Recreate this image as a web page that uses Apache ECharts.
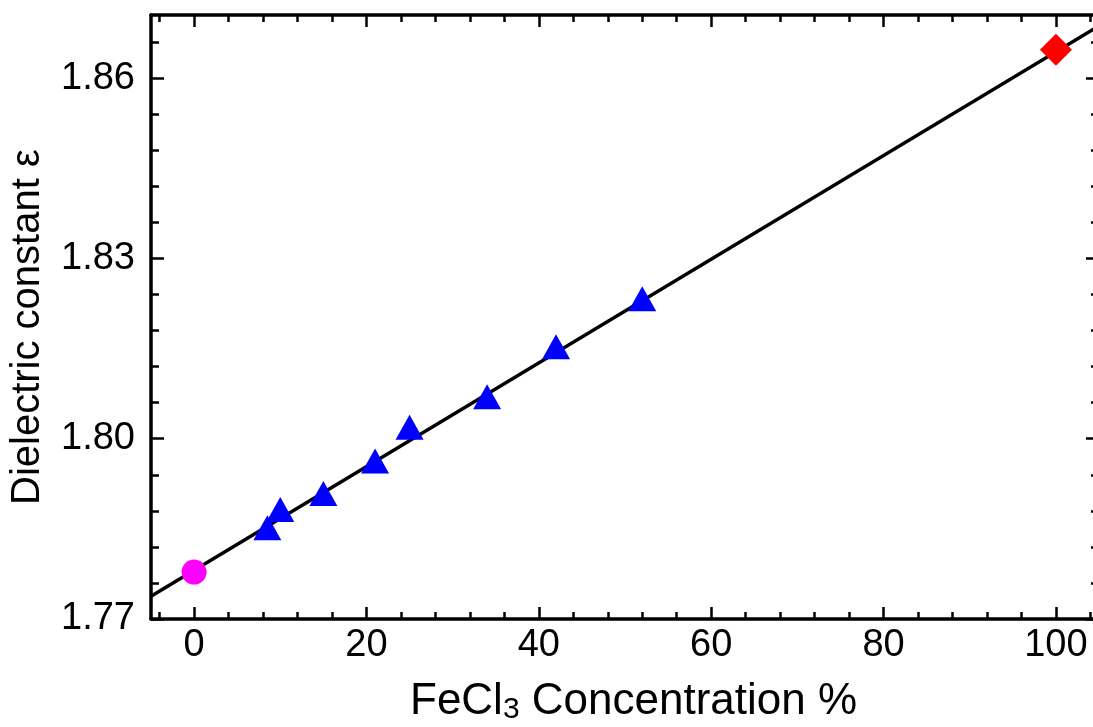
<!DOCTYPE html>
<html>
<head>
<meta charset="utf-8">
<script src="https://cdn.jsdelivr.net/npm/echarts@6/dist/echarts.min.js"></script>
<style>
html,body{margin:0;padding:0;background:#fff;}
#chart{width:1093px;height:727px;}
</style>
</head>
<body>
<div id="chart"></div>
<script>
// ---- data ----
const concSolution = [8.5, 10, 15, 21, 25, 34, 42, 52];
const epsSolution  = [1.7852, 1.7882, 1.7909, 1.7963, 1.8019, 1.8070, 1.8153, 1.8233];
const concPure = [0];
const epsPure  = [1.7778];
const concFeCl3 = [100];
const epsFeCl3  = [1.8647];
const fitX = [-5, 105];
const fitY = [1.7738, 1.8687];

const xMajor = [0, 20, 40, 60, 80, 100];
const xMinor = [-4, 4, 8, 12, 16, 24, 28, 32, 36, 44, 48, 52, 56, 64, 68, 72, 76, 84, 88, 92, 96, 104];
const yMajor = [1.77, 1.80, 1.83, 1.86];
const yMinor = [1.776, 1.782, 1.788, 1.794, 1.806, 1.812, 1.818, 1.824, 1.836, 1.842, 1.848, 1.854, 1.866];

const FONT = 'Liberation Sans, Arial, sans-serif';
const chart = echarts.init(document.getElementById('chart'), null, {renderer: 'canvas'});

function zip(a, b) { return a.map((v, i) => [v, b[i]]); }

function xAx(pos, vals, len, showLine, showLabel) {
  return {
    type: 'value', position: pos, min: -5, max: 105,
    axisLine: {show: showLine, onZero: false, lineStyle: {color: '#000', width: 3.5}},
    axisTick: {show: true, inside: true, length: len, customValues: vals, lineStyle: {color: '#000', width: 2.5}},
    axisLabel: {show: showLabel, customValues: vals, color: '#000', fontSize: 38, fontFamily: FONT, margin: 8},
    splitLine: {show: false}
  };
}
function yAx(pos, vals, len, showLine, showLabel) {
  return {
    type: 'value', position: pos, min: 1.77, max: 1.8705,
    axisLine: {show: showLine, onZero: false, lineStyle: {color: '#000', width: 3.5}},
    axisTick: {show: true, inside: true, length: len, customValues: vals, lineStyle: {color: '#000', width: 2.5}},
    axisLabel: {show: showLabel, customValues: vals, color: '#000', fontSize: 38, fontFamily: FONT, margin: 16,
      formatter: v => Number(v).toFixed(2)},
    splitLine: {show: false}
  };
}

const option = {
  backgroundColor: '#fff',
  animation: false,
  grid: {left: 151, right: -6, top: 15, bottom: 108, containLabel: false, outerBoundsMode: 'none'},
  xAxis: [
    xAx('bottom', xMajor, 12, true, true),
    xAx('bottom', xMinor, 7, false, false),
    xAx('top', xMajor, 12, true, false),
    xAx('top', xMinor, 7, false, false)
  ],
  yAxis: [
    yAx('left', yMajor, 13, true, true),
    yAx('left', yMinor, 8, false, false),
    yAx('right', yMajor, 13, true, false),
    yAx('right', yMinor, 8, false, false)
  ],
  graphic: [
    {
      type: 'text', x: 410, y: 725, z: 100,
      style: {
        text: 'FeCl{sub|3} Concentration %',
        fill: '#000', fontSize: 44, fontFamily: FONT,
        textAlign: 'left', textVerticalAlign: 'bottom', align: 'left', verticalAlign: 'bottom',
        rich: {sub: {fontSize: 30, fontFamily: FONT, fill: '#000', verticalAlign: 'bottom', padding: [16, 0, 0, 0]}}
      }
    },
    {
      type: 'text', x: 28, y: 505, rotation: Math.PI / 2, z: 100,
      style: {
        text: 'Dielectric constant ε',
        fill: '#000', fontSize: 40, fontFamily: FONT,
        textAlign: 'left', textVerticalAlign: 'middle', align: 'left', verticalAlign: 'middle'
      }
    }
  ],
  series: [
    {
      name: 'fit', type: 'line', xAxisIndex: 0, yAxisIndex: 0,
      data: zip(fitX, fitY), showSymbol: false, symbol: 'none',
      lineStyle: {color: '#000', width: 3.5}, z: 2, silent: true
    },
    {
      name: 'pure', type: 'scatter', xAxisIndex: 0, yAxisIndex: 0,
      data: zip(concPure, epsPure), symbol: 'circle', symbolSize: 25,
      itemStyle: {color: '#ff00ff', opacity: 1}, z: 5
    },
    {
      name: 'solutions', type: 'scatter', xAxisIndex: 0, yAxisIndex: 0,
      data: zip(concSolution, epsSolution), symbol: 'triangle', symbolSize: [28, 25],
      itemStyle: {color: '#0000ff', opacity: 1}, z: 5
    },
    {
      name: 'FeCl3', type: 'scatter', xAxisIndex: 0, yAxisIndex: 0,
      data: zip(concFeCl3, epsFeCl3), symbol: 'diamond', symbolSize: [32, 32],
      itemStyle: {color: '#ff0000', opacity: 1}, z: 5
    }
  ]
};
chart.setOption(option);
</script>
</body>
</html>
